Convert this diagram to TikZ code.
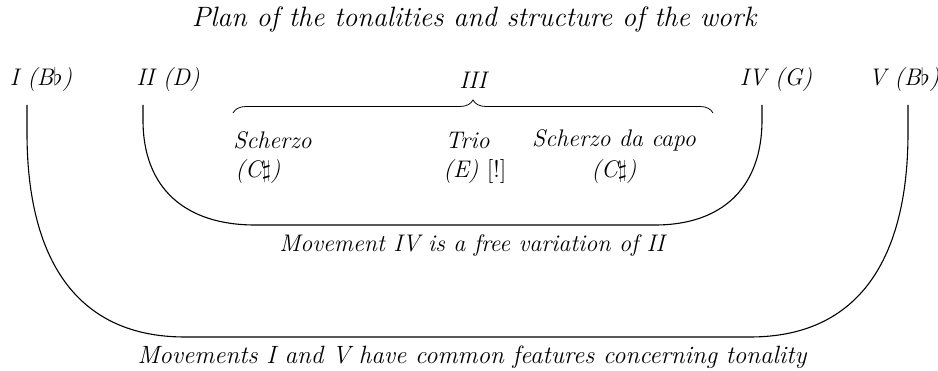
\documentclass[tikz,border=0pt]{standalone}
\usetikzlibrary{decorations.pathreplacing}

\tikzset{
    lbl/.style={font=\fontsize{12}{14}\selectfont\itshape, inner sep=0pt},
    arcline/.style={line width=0.55pt},
}

\begin{document}
\begin{tikzpicture}[x=0.5pt, y=0.5pt]
    \def\rowA{290}      % movement numbers
    \def\rowB{230}      % section names
    \def\rowC{198}      % section keys
    \def\top{265}       % upper end of the arcs
    \def\ib{145}        % bottom of the inner arc
    \def\ob{33}         % bottom of the outer arc
    \useasboundingbox (0,0) rectangle (938,370);
    % Title
    \node[lbl, font=\fontsize{14}{16}\selectfont\itshape] (title) at (474,350)
        {Plan of the tonalities and structure of the work};
    % Movements
    \node[lbl] (mvI)   at (41,\rowA)  {I (B$\flat$)};
    \node[lbl] (mvII)  at (168,\rowA) {II (D)};
    \node[lbl] (mvIII) at (473,\rowA) {III};
    \node[lbl] (mvIV)  at (776,\rowA) {IV (G)};
    \node[lbl] (mvV)   at (904,\rowA) {V (B$\flat$)};
    % Brace under movement III
    \coordinate (brL) at (233,257);
    \coordinate (brR) at (713,257);
    \draw[decorate, decoration={brace, amplitude=6.5pt}] (brL) -- (brR);
    % Sections of movement III
    \node[lbl, anchor=west] (scherzo)    at (233,\rowB) {Scherzo};
    \node[lbl, anchor=west] (scherzoKey) at (235,\rowC) {(C$\sharp$)};
    \node[lbl, anchor=west] (trio)       at (445,\rowB) {Trio};
    \node[lbl, anchor=west] (trioKey)    at (443,\rowC) {(E) \textup{[!]}};
    \node[lbl] (capo)    at (614,\rowB) {Scherzo da capo};
    \node[lbl] (capoKey) at (614,\rowC) {(C$\sharp$)};
    % Inner arc: II and IV
    \coordinate (iL) at (143,\top);
    \coordinate (iR) at (762,\top);
    \draw[arcline] (iL) -- (143,250) to[out=-90, in=180, looseness=1.15] (255,\ib) -- (655,\ib)
        to[out=0, in=-90, looseness=1.15] (762,250) -- (iR);
    \node[lbl] (innerTxt) at (472,125) {Movement IV is a free variation of II};
    % Outer arc: I and V
    \coordinate (oL) at (27,\top);
    \coordinate (oR) at (908,\top);
    \draw[arcline] (oL) -- (27,237) to[out=-90, in=180, looseness=1.15] (185,\ob) -- (750,\ob)
        to[out=0, in=-90, looseness=1.15] (908,237) -- (oR);
    \node[lbl, font=\fontsize{12.5}{14}\selectfont\itshape] (outerTxt) at (472,13)
        {Movements I and V have common features concerning tonality};
\end{tikzpicture}
\end{document}
